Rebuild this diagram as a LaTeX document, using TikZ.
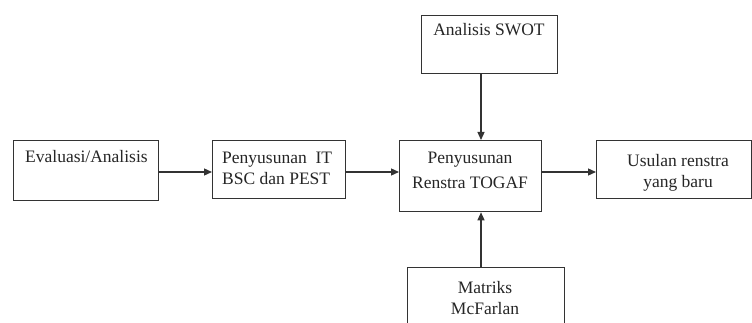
\documentclass[tikz,border=0pt]{standalone}
\usepackage{fontspec}
\setmainfont{Liberation Serif}
\usetikzlibrary{arrows.meta}
\begin{document}
\begin{tikzpicture}[x=1pt,y=-1pt,
  box/.style={draw=black!80, line width=1.3pt, rectangle, inner sep=0pt, anchor=north west},
  txt/.style={inner sep=0pt, font=\fontsize{17.5}{21}\selectfont, text=black!85},
  arr/.style={draw=black!80, line width=1.3pt, -{Triangle[length=8pt,width=7pt]}}]
\useasboundingbox (0,0) rectangle (752,323);
\clip (0,0) rectangle (752,323);
\fill[white] (0,0) rectangle (752,323);
% boxes
\node[box, minimum width=145pt, minimum height=60pt] (eval) at (13,140) {};
\node[box, minimum width=133pt, minimum height=58pt] (pest) at (212,140) {};
\node[box, minimum width=136pt, minimum height=58pt] (swot) at (421,15) {};
\node[box, minimum width=142pt, minimum height=71pt] (togaf) at (399,140) {};
\node[box, minimum width=155pt, minimum height=58pt] (usul) at (596,140) {};
\node[box, minimum width=157pt, minimum height=80pt] (mcf) at (407,267) {};
% texts
\node[txt, anchor=base west] (tEval) at (25,163) {Evaluasi/Analisis};
\node[txt, anchor=base west] (tPest1) at (222,164) {Penyusunan\ \ IT};
\node[txt, anchor=base west] (tPest2) at (222,185) {BSC dan PEST};
\node[txt, anchor=base] (tSwot) at (489,36) {Analisis SWOT};
\node[txt, anchor=base] (tTog1) at (470,164) {Penyusunan};
\node[txt, anchor=base] (tTog2) at (470,189) {Renstra TOGAF};
\node[txt, anchor=base] (tUs1) at (678,167) {Usulan renstra};
\node[txt, anchor=base] (tUs2) at (678,188) {yang baru};
\node[txt, anchor=base] (tMc1) at (485,293) {Matriks};
\node[txt, anchor=base] (tMc2) at (485,314) {McFarlan};
% connectors
\coordinate (row) at (0,172);
\coordinate (col) at (481,0);
\draw[arr] (eval.east |- row) -- (pest.west |- row);
\draw[arr] (pest.east |- row) -- (togaf.west |- row);
\draw[arr] (togaf.east |- row) -- (usul.west |- row);
\draw[arr] (swot.south -| col) -- (togaf.north -| col);
\draw[arr] (mcf.north -| col) -- (togaf.south -| col);
\end{tikzpicture}
\end{document}
